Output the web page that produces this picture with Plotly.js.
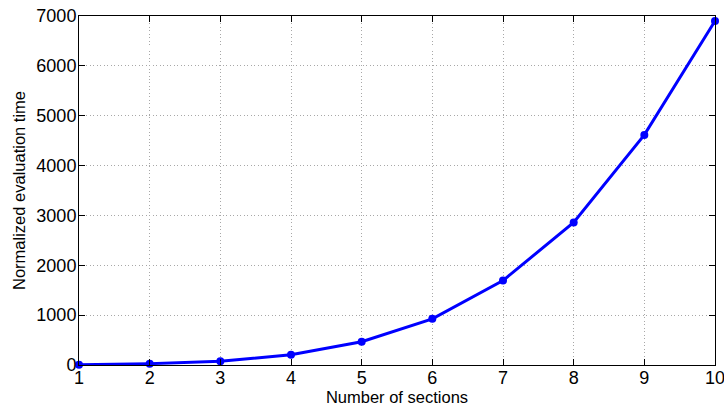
<!DOCTYPE html>
<html>
<head>
<meta charset="utf-8">
<script src="https://cdn.plot.ly/plotly-3.0.1.min.js"></script>
<style>html,body{margin:0;padding:0;background:#fff;}#chart{width:724px;height:407px;}</style>
</head>
<body>
<div id="chart"></div>
<script>
const sections = [1, 2, 3, 4, 5, 6, 7, 8, 9, 10];
const evalTime = [5, 27, 73, 206, 466, 926, 1694, 2860, 4615, 6900];
const xTicks = [1, 2, 3, 4, 5, 6, 7, 8, 9, 10];
const yTicks = [0, 1000, 2000, 3000, 4000, 5000, 6000, 7000];

const font = "Liberation Sans, Arial, Helvetica, sans-serif";
Plotly.newPlot('chart', [{
  x: sections, y: evalTime, type: 'scatter', mode: 'lines+markers',
  line: {color: '#0000ff', width: 3},
  marker: {color: '#0000ff', size: 8},
  cliponaxis: false, hoverinfo: 'skip'
}], {
  width: 724, height: 407,
  margin: {l: 79, r: 9, t: 15.5, b: 42},
  paper_bgcolor: '#fff', plot_bgcolor: '#fff',
  showlegend: false,
  font: {family: font, size: 18, color: '#000'},
  xaxis: {
    range: [1, 10], tickvals: xTicks, ticktext: xTicks.map(String),
    ticks: 'inside', ticklen: 6, tickcolor: '#000', tickwidth: 1,
    showline: true, linecolor: '#000', linewidth: 1, mirror: 'ticks',
    showgrid: true, gridcolor: '#a8a8a8', griddash: '1px,2.5px', gridwidth: 1,
    zeroline: false, ticklabelstandoff: -4, ticklabeloverflow: 'allow',
    title: {text: 'Number of sections', font: {family: font, size: 16.5}, standoff: 0}
  },
  yaxis: {
    range: [0, 7000], tickvals: yTicks, ticktext: yTicks.map(String),
    ticks: 'inside', ticklen: 6, tickcolor: '#000', tickwidth: 1,
    showline: true, linecolor: '#000', linewidth: 1, mirror: 'ticks',
    showgrid: true, gridcolor: '#a8a8a8', griddash: '1px,2.5px', gridwidth: 1,
    zeroline: false, ticklabelstandoff: -2, ticklabeloverflow: 'allow',
    title: {text: 'Normalized evaluation time', font: {family: font, size: 16.5}, standoff: 6}
  }
}, {staticPlot: true});
</script>
</body>
</html>
